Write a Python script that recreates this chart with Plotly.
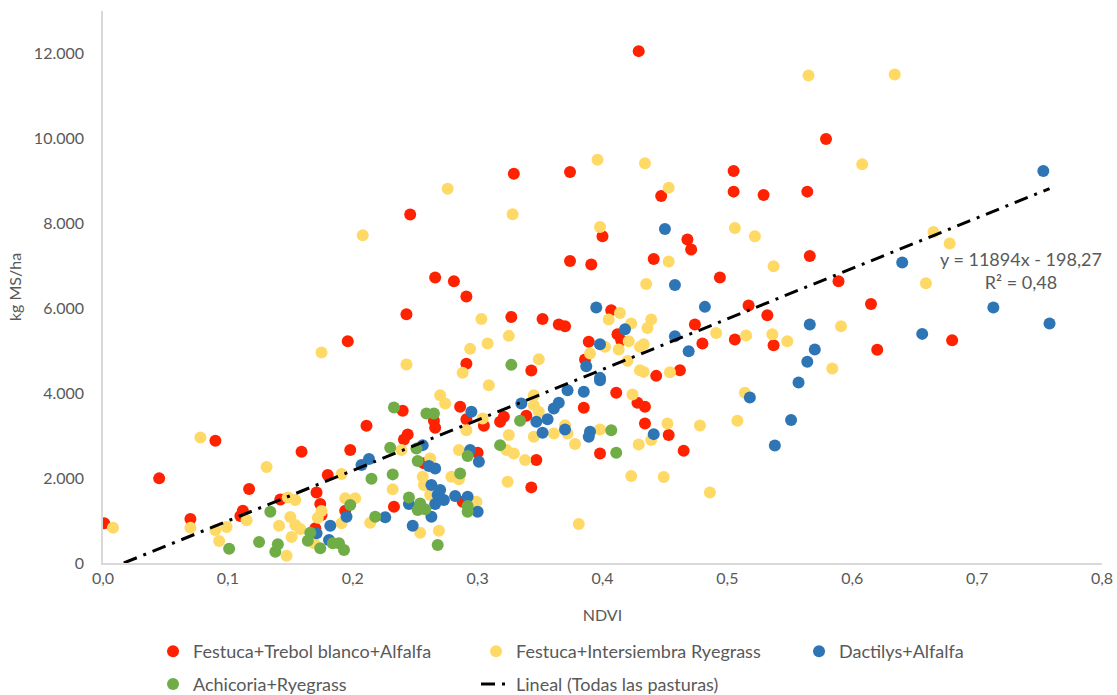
import plotly.graph_objects as go

# Festuca+Trebol blanco+Alfalfa
red_x = [0.001, 0.045, 0.090, 0.159, 0.198, 0.180, 0.117, 0.142, 0.171, 0.112, 0.070, 0.174, 0.194, 0.175,
         0.170, 0.110, 0.211, 0.240, 0.286, 0.265, 0.266, 0.291, 0.305, 0.321, 0.318, 0.339, 0.385, 0.244,
         0.241, 0.300, 0.347, 0.343, 0.398, 0.233, 0.288, 0.246, 0.266, 0.281, 0.291, 0.243, 0.196, 0.327,
         0.352, 0.365, 0.370, 0.374, 0.391, 0.400, 0.389, 0.386, 0.291, 0.343, 0.329, 0.374, 0.429, 0.579,
         0.505, 0.505, 0.529, 0.564, 0.447, 0.468, 0.471, 0.441, 0.566, 0.494, 0.589, 0.407, 0.412, 0.415,
         0.443, 0.462, 0.474, 0.480, 0.506, 0.517, 0.532, 0.537, 0.411, 0.428, 0.434, 0.434, 0.453, 0.465,
         0.615, 0.680, 0.620, 0.257]
red_y = [934, 1993, 2878, 2619, 2659, 2070, 1741, 1498, 1663, 1231, 1035, 1388, 1231, 1129,
         816, 1106, 3231, 3584, 3678, 3349, 3184, 3388, 3231, 3443, 3325, 3466, 3654, 3028,
         2911, 2596, 2424, 1781, 2581, 1325, 1443, 8205, 6722, 6635, 6275, 5859, 5224, 5796,
         5749, 5616, 5577, 7114, 7028, 7694, 5208, 4793, 4690, 4534, 9169, 9208, 12055, 9984,
         9231, 8746, 8667, 8746, 8643, 7617, 7382, 7160, 7231, 6722, 6635, 5953, 5388, 5247,
         4407, 4541, 5616, 5169, 5263, 6063, 5835, 5129, 4008, 3772, 3678, 3286, 3012, 2643,
         6101, 5247, 5020, 2350]

# Festuca+Intersiembra Ryegrass
yel_x = [0.008, 0.078, 0.131, 0.191, 0.115, 0.070, 0.090, 0.099, 0.093, 0.150, 0.141, 0.154, 0.158, 0.151,
         0.147, 0.148, 0.154, 0.194, 0.175, 0.172, 0.191, 0.169, 0.309, 0.270, 0.274, 0.304, 0.291, 0.345,
         0.345, 0.349, 0.325, 0.345, 0.361, 0.370, 0.372, 0.378, 0.398, 0.323, 0.329, 0.338, 0.285, 0.239,
         0.262, 0.256, 0.257, 0.279, 0.285, 0.324, 0.232, 0.202, 0.299, 0.262, 0.214, 0.254, 0.269, 0.381,
         0.175, 0.208, 0.328, 0.398, 0.303, 0.325, 0.308, 0.294, 0.243, 0.288, 0.349, 0.390, 0.276, 0.396,
         0.565, 0.634, 0.608, 0.434, 0.453, 0.506, 0.522, 0.453, 0.537, 0.435, 0.405, 0.414, 0.423, 0.439,
         0.436, 0.421, 0.402, 0.413, 0.433, 0.430, 0.420, 0.430, 0.433, 0.454, 0.491, 0.515, 0.536, 0.548,
         0.591, 0.584, 0.424, 0.452, 0.439, 0.429, 0.478, 0.508, 0.514, 0.423, 0.449, 0.486, 0.665, 0.678,
         0.659]
yel_y = [831, 2957, 2259, 2094, 1004, 831, 776, 847, 518, 1082, 878, 894, 800, 612,
         172, 1545, 1482, 1522, 1224, 1067, 934, 463, 4188, 3953, 3758, 3405, 3129, 3953,
         3718, 3560, 3012, 2972, 3051, 3247, 3051, 2800, 3145, 2659, 2581, 2424, 2659, 2659,
         2463, 2031, 1835, 2031, 1970, 1914, 1734, 1522, 1443, 1600, 949, 713, 761, 918,
         4958, 7718, 8212, 7914, 5749, 5349, 5169, 5043, 4674, 4478, 4800, 4934, 8816, 9499,
         11482, 11506, 9388, 9412, 8840, 7890, 7694, 7099, 6988, 6572, 5734, 5890, 5640, 5734,
         5537, 5224, 5090, 5028, 5153, 5090, 4760, 4541, 4501, 4494, 5419, 5357, 5388, 5224,
         5577, 4581, 3969, 3286, 2894, 2792, 3240, 3349, 4008, 2047, 2024, 1663, 7796, 7522,
         6588]

# Dactilys+Alfalfa
blu_x = [0.171, 0.182, 0.181, 0.195, 0.207, 0.213, 0.256, 0.261, 0.266, 0.294, 0.301, 0.295, 0.335, 0.347,
         0.356, 0.352, 0.361, 0.365, 0.372, 0.385, 0.370, 0.390, 0.389, 0.398, 0.263, 0.270, 0.268, 0.266,
         0.273, 0.282, 0.292, 0.245, 0.300, 0.263, 0.248, 0.226, 0.395, 0.398, 0.387, 0.398, 0.753, 0.450,
         0.458, 0.418, 0.458, 0.469, 0.482, 0.566, 0.570, 0.564, 0.557, 0.441, 0.518, 0.551, 0.538, 0.640,
         0.713, 0.758, 0.656]
blu_y = [698, 878, 541, 1090, 2306, 2447, 2776, 2282, 2227, 2659, 2384, 3560, 3758, 3325,
         3388, 3066, 3640, 3772, 4071, 4031, 3145, 3090, 2972, 4306, 1835, 1718, 1600, 1388,
         1482, 1576, 1561, 1388, 1208, 1090, 878, 1075, 6016, 5153, 4635, 4360, 9231, 7867,
         6548, 5506, 5341, 4988, 6032, 5616, 5028, 4737, 4252, 3035, 3899, 3366, 2769, 7075,
         6016, 5640, 5396]

# Achicoria+Ryegrass
grn_x = [0.134, 0.101, 0.125, 0.140, 0.138, 0.166, 0.164, 0.174, 0.184, 0.189, 0.193, 0.198, 0.233, 0.259,
         0.265, 0.334, 0.230, 0.252, 0.251, 0.318, 0.292, 0.286, 0.215, 0.232, 0.218, 0.245, 0.254, 0.252,
         0.258, 0.292, 0.292, 0.268, 0.327, 0.407, 0.411]
grn_y = [1208, 337, 494, 439, 266, 713, 525, 345, 463, 463, 306, 1365, 3664, 3522,
         3522, 3349, 2713, 2400, 2698, 2776, 2518, 2110, 1984, 2087, 1090, 1545, 1404, 1247,
         1263, 1341, 1208, 424, 4666, 3129, 2596]

# Regression (Todas las pasturas)
slope = 11894
intercept = -198.27

FONT = "Lato, Carlito, Calibri, sans-serif"
GRAY = "#595959"

fig = go.Figure()
series = [
    ("Festuca+Trebol blanco+Alfalfa", red_x, red_y, "#FF2200", "legend"),
    ("Festuca+Intersiembra Ryegrass", yel_x, yel_y, "#FFD966", "legend"),
    ("Dactilys+Alfalfa", blu_x, blu_y, "#2E75B6", "legend"),
    ("Achicoria+Ryegrass", grn_x, grn_y, "#70AD47", "legend2"),
]
for name, xs, ys, col, lg in series:
    fig.add_trace(go.Scatter(x=xs, y=ys, mode="markers", name=name, legend=lg,
                             marker=dict(color=col, size=12, line=dict(width=0))))

all_x = red_x + yel_x + blu_x + grn_x
x0 = -intercept / slope
x1 = max(all_x)
fig.add_trace(go.Scatter(x=[x0, x1], y=[slope * x0 + intercept, slope * x1 + intercept],
                         mode="lines", name="Lineal (Todas las pasturas)", legend="legend2",
                         line=dict(color="black", width=3, dash="14px,7px,3px,7px")))

fig.add_annotation(x=0.735, y=6900, xref="x", yref="y", showarrow=False,
                   text="y = 11894x - 198,27<br>R² = 0,48", align="center",
                   font=dict(family=FONT, size=18, color=GRAY))

leg_common = dict(orientation="h", xref="container", yref="container",
                  xanchor="left", yanchor="top",
                  entrywidth=278, entrywidthmode="pixels",
                  font=dict(family=FONT, size=18, color=GRAY), traceorder="normal",
                  bgcolor="rgba(0,0,0,0)")

fig.update_layout(
    width=1117, height=695,
    margin=dict(l=103, r=15, t=11, b=132, autoexpand=False),
    paper_bgcolor="white", plot_bgcolor="white",
    separators=",.",
    font=dict(family=FONT, size=16, color=GRAY),
    showlegend=True,
    legend=dict(x=0.137, y=0.089, **leg_common),
    legend2=dict(x=0.137, y=0.042, **leg_common),
    xaxis=dict(range=[0, 0.8], tickvals=[0, 0.1, 0.2, 0.3, 0.4, 0.5, 0.6, 0.7, 0.8],
               tickformat=".1f", showgrid=False, zeroline=False, showline=True,
               linecolor="#D9D9D9", linewidth=1.5, ticks="", automargin=False,
               ticklabelstandoff=0,
               title=dict(text="NDVI", standoff=24, font=dict(size=16, color=GRAY)),
               tickfont=dict(size=16, color=GRAY)),
    yaxis=dict(range=[0, 13000], tickvals=[0, 2000, 4000, 6000, 8000, 10000, 12000],
               tickformat=",.0f", showgrid=False, zeroline=False, showline=True,
               linecolor="#D9D9D9", linewidth=1.5, ticks="", automargin=False,
               ticklabelstandoff=14,
               title=dict(text="kg MS/ha", standoff=8, font=dict(size=16, color=GRAY)),
               tickfont=dict(size=16, color=GRAY)),
)

fig.write_html("out.html", config={"displayModeBar": False},
               post_script="document.body.style.margin='0';")
